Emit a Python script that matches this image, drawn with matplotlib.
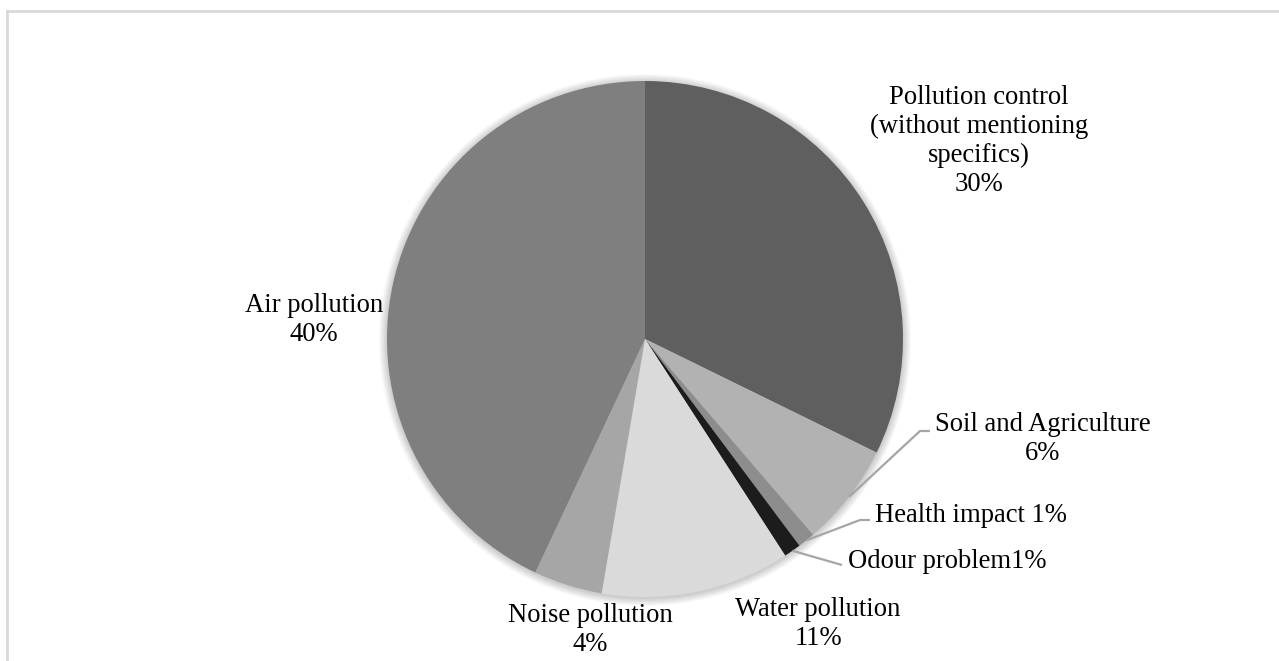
import numpy as np
import matplotlib
matplotlib.use('Agg')
import matplotlib.pyplot as plt
from matplotlib.patches import Circle

plt.rcParams['font.family'] = ['Liberation Serif', 'DejaVu Serif']

# pollution topics, clockwise from 12 o'clock
categories = ["Pollution control\n(without mentioning\nspecifics)",
              "Soil and Agriculture", "Health impact", "Odour problem",
              "Water pollution", "Noise pollution", "Air pollution"]
shares = [30, 6, 1, 1, 11, 4, 40]
separators = ["\n", "\n", " ", "", "\n", "\n", "\n"]
colors = ["#5f5f5f", "#b2b2b2", "#8d8d8d", "#1c1c1c",
          "#dadada", "#a6a6a6", "#7f7f7f"]

W, H = 1279, 661
fig = plt.figure(figsize=(W / 100, H / 100), dpi=100)
ax = fig.add_axes([0, 0, 1, 1])

cx, cy, r = 645, H - 339, 258

# soft drop shadow round the pie
for k in range(1, 11):
    ax.add_patch(Circle((cx, cy - 1), r + k * 0.8, color='black',
                        alpha=0.018, lw=0, zorder=0))

wedges, _ = ax.pie(shares, colors=colors, startangle=90, counterclock=False,
                   center=(cx, cy), radius=r,
                   wedgeprops=dict(linewidth=0, zorder=1))
ax.set_xlim(0, W)
ax.set_ylim(0, H)
ax.set_aspect('equal')
ax.axis('off')

labels = [c + s + "%d%%" % v for c, s, v in zip(categories, separators, shares)]

# label placement: (x, y in pixels from top, ha, leader elbow points)
layout = [
    (979, 141, 'center', None),
    (1043, 439, 'center', [(920, 431), (930, 431)]),
    (875, 515, 'left', [(860, 520), (870, 520)]),
    (848, 562, 'left', [(842, 565)]),
    (818, 624, 'center', None),
    (590, 630, 'center', None),
    (314, 320, 'center', None),
]

total = float(sum(shares))
cum = np.cumsum([0] + shares[:-1])
for i, (lab, (lx, ly, ha, pts)) in enumerate(zip(labels, layout)):
    ax.text(lx, H - ly, lab, ha=ha, va='center', fontsize=19.2,
            linespacing=1.2, color='black', zorder=3)
    if pts:
        mid = np.deg2rad(90 - 360 * (cum[i] + shares[i] / 2) / total)
        xs = [cx + r * np.cos(mid)] + [p[0] for p in pts]
        ys = [cy + r * np.sin(mid)] + [H - p[1] for p in pts]
        ax.plot(xs, ys, color='#a6a6a6', lw=1.6, zorder=2,
                solid_capstyle='butt')

# chart area border (top and left edges in view)
ax.plot([7, W], [H - 11, H - 11], color='#d9d9d9', lw=2, clip_on=False)
ax.plot([7, 7], [0, H - 11], color='#d9d9d9', lw=2, clip_on=False)

fig.savefig('out.png', dpi=100)
